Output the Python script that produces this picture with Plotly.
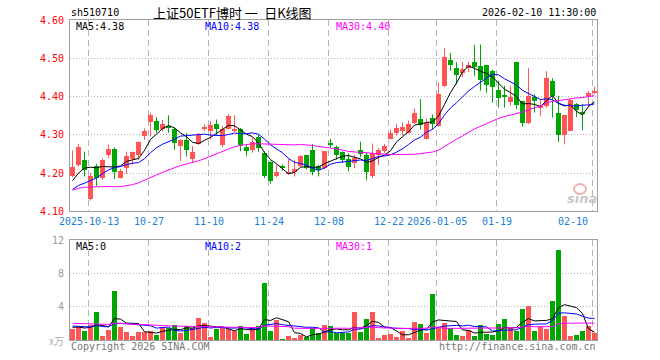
import plotly.graph_objects as go

# ---------------- data ----------------
dates = [
    "2025-09-30", "2025-10-09", "2025-10-10",
    "2025-10-13", "2025-10-14", "2025-10-15", "2025-10-16", "2025-10-17",
    "2025-10-20", "2025-10-21", "2025-10-22", "2025-10-23", "2025-10-24",
    "2025-10-27", "2025-10-28", "2025-10-29", "2025-10-30", "2025-10-31",
    "2025-11-03", "2025-11-04", "2025-11-05", "2025-11-06", "2025-11-07",
    "2025-11-10", "2025-11-11", "2025-11-12", "2025-11-13", "2025-11-14",
    "2025-11-17", "2025-11-18", "2025-11-19", "2025-11-20", "2025-11-21",
    "2025-11-24", "2025-11-25", "2025-11-26", "2025-11-27", "2025-11-28",
    "2025-12-01", "2025-12-02", "2025-12-03", "2025-12-04", "2025-12-05",
    "2025-12-08", "2025-12-09", "2025-12-10", "2025-12-11", "2025-12-12",
    "2025-12-15", "2025-12-16", "2025-12-17", "2025-12-18", "2025-12-19",
    "2025-12-22", "2025-12-23", "2025-12-24", "2025-12-25", "2025-12-26",
    "2025-12-29", "2025-12-30", "2025-12-31",
    "2026-01-05", "2026-01-06", "2026-01-07", "2026-01-08", "2026-01-09",
    "2026-01-12", "2026-01-13", "2026-01-14", "2026-01-15", "2026-01-16",
    "2026-01-19", "2026-01-20", "2026-01-21", "2026-01-22", "2026-01-23",
    "2026-01-26", "2026-01-27", "2026-01-28", "2026-01-29", "2026-01-30",
    "2026-02-02", "2026-02-03", "2026-02-04", "2026-02-05", "2026-02-06",
    "2026-02-09", "2026-02-10",
]

open_ = [
    4.191, 4.221, 4.234, 4.132, 4.219, 4.186, 4.248, 4.263, 4.188, 4.213,
    4.236, 4.248, 4.297, 4.333, 4.335, 4.315, 4.324, 4.314, 4.271, 4.287,
    4.237, 4.276, 4.314, 4.311, 4.327, 4.272, 4.316, 4.310, 4.314, 4.268,
    4.261, 4.293, 4.253, 4.230, 4.191, 4.216, 4.200, 4.203, 4.218, 4.246,
    4.259, 4.219, 4.213, 4.277, 4.268, 4.255, 4.238, 4.226, 4.261, 4.248,
    4.191, 4.248, 4.257, 4.290, 4.305, 4.309, 4.305, 4.332, 4.340, 4.290,
    4.343, 4.323, 4.428, 4.496, 4.475, 4.461, 4.474, 4.491, 4.481, 4.482,
    4.468, 4.417, 4.402, 4.386, 4.491, 4.389, 4.330, 4.399, 4.371, 4.374,
    4.441, 4.356, 4.300, 4.311, 4.380, 4.360, 4.402, 4.409,
]
high = [
    4.259, 4.276, 4.256, 4.200, 4.224, 4.238, 4.274, 4.267, 4.211, 4.256,
    4.256, 4.283, 4.317, 4.357, 4.346, 4.339, 4.351, 4.318, 4.288, 4.304,
    4.270, 4.305, 4.327, 4.336, 4.340, 4.323, 4.354, 4.351, 4.318, 4.275,
    4.292, 4.300, 4.257, 4.231, 4.222, 4.222, 4.237, 4.235, 4.247, 4.248,
    4.276, 4.222, 4.257, 4.290, 4.272, 4.257, 4.251, 4.248, 4.282, 4.252,
    4.277, 4.265, 4.276, 4.314, 4.329, 4.332, 4.337, 4.368, 4.393, 4.342,
    4.353, 4.437, 4.526, 4.514, 4.490, 4.490, 4.490, 4.535, 4.536, 4.482,
    4.470, 4.441, 4.428, 4.428, 4.491, 4.389, 4.474, 4.406, 4.393, 4.466,
    4.448, 4.402, 4.351, 4.393, 4.383, 4.380, 4.414, 4.426,
]
low = [
    4.189, 4.217, 4.191, 4.128, 4.166, 4.182, 4.239, 4.184, 4.186, 4.198,
    4.222, 4.235, 4.287, 4.296, 4.305, 4.309, 4.305, 4.261, 4.231, 4.243,
    4.226, 4.274, 4.310, 4.288, 4.300, 4.268, 4.314, 4.307, 4.257, 4.244,
    4.253, 4.256, 4.187, 4.172, 4.189, 4.207, 4.196, 4.191, 4.216, 4.209,
    4.194, 4.191, 4.210, 4.266, 4.235, 4.226, 4.204, 4.213, 4.242, 4.181,
    4.187, 4.221, 4.253, 4.288, 4.298, 4.298, 4.303, 4.328, 4.314, 4.288,
    4.314, 4.321, 4.424, 4.468, 4.432, 4.450, 4.464, 4.454, 4.415, 4.410,
    4.384, 4.371, 4.371, 4.376, 4.367, 4.321, 4.328, 4.358, 4.349, 4.371,
    4.345, 4.281, 4.275, 4.310, 4.346, 4.312, 4.375, 4.406,
]
close = [
    4.217, 4.267, 4.208, 4.191, 4.186, 4.234, 4.263, 4.204, 4.206, 4.245,
    4.254, 4.281, 4.309, 4.351, 4.313, 4.328, 4.320, 4.278, 4.287, 4.261,
    4.256, 4.303, 4.320, 4.325, 4.314, 4.314, 4.349, 4.316, 4.272, 4.257,
    4.282, 4.265, 4.193, 4.178, 4.203, 4.214, 4.203, 4.211, 4.244, 4.213,
    4.203, 4.207, 4.257, 4.275, 4.246, 4.235, 4.215, 4.239, 4.250, 4.202,
    4.253, 4.261, 4.270, 4.305, 4.317, 4.321, 4.327, 4.356, 4.325, 4.332,
    4.327, 4.406, 4.504, 4.483, 4.456, 4.472, 4.482, 4.476, 4.443, 4.430,
    4.426, 4.396, 4.400, 4.400, 4.377, 4.330, 4.402, 4.387, 4.375, 4.448,
    4.402, 4.300, 4.351, 4.390, 4.365, 4.354, 4.408, 4.415,
]
volume = [  # 万
    1.28, 1.68, 1.12, 1.80, 3.40, 0.48, 1.20, 5.92, 1.52, 1.00,
    0.48, 1.00, 0.96, 1.12, 0.60, 1.52, 1.40, 1.80, 0.88, 1.68,
    1.40, 2.68, 2.08, 0.40, 1.32, 1.40, 1.28, 1.12, 1.72, 0.72,
    1.28, 1.68, 6.88, 1.12, 2.40, 0.12, 0.48, 0.28, 0.60, 0.40,
    1.40, 0.88, 1.80, 1.68, 0.88, 0.88, 0.88, 3.40, 1.00, 2.52,
    3.40, 0.28, 0.60, 0.72, 0.40, 1.12, 0.28, 2.20, 1.92, 0.88,
    5.52, 1.52, 2.08, 1.40, 0.60, 0.48, 1.20, 0.48, 1.80, 0.72,
    0.60, 1.92, 2.52, 1.40, 1.12, 3.72, 4.08, 1.12, 1.52, 1.32,
    4.68, 10.80, 2.88, 0.48, 0.60, 1.12, 1.68, 0.80,
]
# closes / volumes before the visible window (estimated from where the MA lines start)
pre_close = [4.12, 4.14, 4.15, 4.18, 4.22, 4.24, 4.23, 4.21, 4.18, 4.16,
             4.14, 4.12, 4.11, 4.12, 4.13, 4.12, 4.11, 4.12, 4.14, 4.15,
             4.16, 4.15, 4.13, 4.11, 4.12, 4.167, 4.143, 4.18, 4.193]
pre_volume = [2.5, 1.8, 3.2, 2.0, 1.6, 2.4, 1.9, 2.8, 1.7, 2.2,
              1.5, 2.6, 2.0, 1.8, 2.3, 1.9, 2.4, 1.7, 2.1, 2.8,
              2.0, 1.6, 2.2, 1.7, 1.7, 1.5, 1.7, 1.4, 1.72]

tick_dates = ["2025-10-13", "2025-10-27", "2025-11-10", "2025-11-24", "2025-12-08",
              "2025-12-22", "2026-01-05", "2026-01-19", "2026-02-10"]
tick_text = ["2025-10-13", "10-27", "11-10", "11-24", "12-08",
             "12-22", "2026-01-05", "01-19", "02-10"]
price_ticks = [4.10, 4.20, 4.30, 4.40, 4.50, 4.60]
vol_ticks = [4, 8, 12]
title_code = "sh510710"
title_name = "上证50ETF博时\u2009一\u2002日K线图"
timestamp = "2026-02-10 11:30:00"
price_ma_labels = ["MA5:4.38", "MA10:4.38", "MA30:4.40"]
vol_ma_labels = ["MA5:0", "MA10:2", "MA30:1"]

# ---------------- derived ----------------
n = len(close)
idx = list(range(n))


def moving_avg(prev, vals, w):
    full = list(prev) + list(vals)
    off = len(prev)
    return [sum(full[off + i - w + 1: off + i + 1]) / w for i in range(n)]


ma5 = moving_avg(pre_close, close, 5)
ma10 = moving_avg(pre_close, close, 10)
ma30 = moving_avg(pre_close, close, 30)
vma5 = moving_avg(pre_volume, volume, 5)
vma10 = moving_avg(pre_volume, volume, 10)
vma30 = moving_avg(pre_volume, volume, 30)

RED = "#ff5555"
GREEN = "#00a600"
up = [c >= o for o, c in zip(open_, close)]
colors = [RED if u else GREEN for u in up]

# ---------------- layout helpers (pixels -> paper) ----------------
W, H = 660, 360
ML, MR, MT, MB = 70, 63, 20, 20
PW, PH = W - ML - MR, H - MT - MB


def px(xp):
    return (xp - ML) / PW


def py(yp):
    return (H - MB - yp) / PH


MONO = "DejaVu Sans Mono"
GRID = "#b4b4b4"
BORDER = "#a0a0a0"

fig = go.Figure()

# wicks
for flag, col in ((True, RED), (False, GREEN)):
    xs, ys = [], []
    for i in idx:
        if up[i] == flag:
            xs += [i, i, None]
            ys += [low[i], high[i], None]
    fig.add_trace(go.Scatter(x=xs, y=ys, mode="lines", line=dict(color=col, width=1),
                             hoverinfo="skip", xaxis="x", yaxis="y"))

# bodies
fig.add_trace(go.Bar(
    x=idx,
    base=[min(o, c) for o, c in zip(open_, close)],
    y=[max(abs(c - o), 0.0014) for o, c in zip(open_, close)],
    marker=dict(color=colors, line=dict(width=0)),
    width=0.78, xaxis="x", yaxis="y", customdata=dates,
    hovertemplate="%{customdata}<extra></extra>",
))

for series, col in ((ma5, "#000000"), (ma10, "#0000ff"), (ma30, "#ff00ff")):
    fig.add_trace(go.Scatter(x=idx, y=series, mode="lines", line=dict(color=col, width=1),
                             hoverinfo="skip", xaxis="x", yaxis="y"))

# volume
fig.add_trace(go.Bar(x=idx, y=volume, marker=dict(color=colors, line=dict(width=0)),
                     width=0.78, xaxis="x2", yaxis="y2", customdata=dates,
                     hovertemplate="%{customdata}<extra></extra>"))
for series, col in ((vma5, "#000000"), (vma10, "#0000ff"), (vma30, "#ff00ff")):
    fig.add_trace(go.Scatter(x=idx, y=series, mode="lines", line=dict(color=col, width=1),
                             hoverinfo="skip", xaxis="x2", yaxis="y2"))

tick_pos = [dates.index(d) - 0.33 for d in tick_dates]

xcommon = dict(range=[-0.42, 87.42], tickvals=tick_pos, showticklabels=False,
               showgrid=True, gridcolor=GRID, gridwidth=1, griddash="6px,4px",
               zeroline=False, showline=True, mirror=True, linecolor=BORDER,
               linewidth=1, ticks="", fixedrange=True)

main_bottom = py(211.3)
vol_top = py(240)

annotations = []
# date labels
for k, (p, t) in enumerate(zip(tick_pos, tick_text)):
    if k == len(tick_pos) - 1:
        annotations.append(dict(x=px(590), xref="paper", y=py(221.5), yref="paper",
                                text=t, showarrow=False, xanchor="right", yanchor="middle",
                                font=dict(family=MONO, size=10, color="#1a7fd4")))
    else:
        annotations.append(dict(x=p, xref="x", y=py(221.5), yref="paper", text=t,
                                showarrow=False, xanchor="center", yanchor="middle",
                                font=dict(family=MONO, size=10, color="#1a7fd4")))

# header
annotations.append(dict(x=px(69), y=py(13), xref="paper", yref="paper", text=title_code,
                        showarrow=False, xanchor="left", yanchor="middle",
                        font=dict(family=MONO, size=10, color="#000")))
annotations.append(dict(x=px(151), y=py(12.5), xref="paper", yref="paper", text=title_name,
                        showarrow=False, xanchor="left", yanchor="middle",
                        font=dict(family="Noto Sans CJK SC", size=13, color="#000")))
annotations.append(dict(x=px(598), y=py(13), xref="paper", yref="paper", text=timestamp,
                        showarrow=False, xanchor="right", yanchor="middle",
                        font=dict(family=MONO, size=10, color="#000")))

ma_cols = ["#000000", "#0000ff", "#ff00ff"]
ma_x = [74, 203, 334]
for t, c, xx in zip(price_ma_labels, ma_cols, ma_x):
    annotations.append(dict(x=px(xx), y=py(26.5), xref="paper", yref="paper", text=t,
                            showarrow=False, xanchor="left", yanchor="middle",
                            font=dict(family=MONO, size=10, color=c)))
for t, c, xx in zip(vol_ma_labels, ma_cols, ma_x):
    annotations.append(dict(x=px(xx), y=py(246.5), xref="paper", yref="paper", text=t,
                            showarrow=False, xanchor="left", yanchor="middle",
                            font=dict(family=MONO, size=10, color=c)))

# volume unit
annotations.append(dict(x=px(66), y=py(340), xref="paper", yref="paper", text="x万",
                        showarrow=False, xanchor="right", yanchor="middle",
                        font=dict(family="Noto Sans CJK SC", size=10, color="#b0b0b0")))
# footer
annotations.append(dict(x=px(69), y=py(346), xref="paper", yref="paper",
                        text="Copyright 2026 SINA.COM", showarrow=False,
                        xanchor="left", yanchor="middle",
                        font=dict(family=MONO, size=10, color="#777")))
annotations.append(dict(x=px(598), y=py(346), xref="paper", yref="paper",
                        text="http://finance.sina.com.cn", showarrow=False,
                        xanchor="right", yanchor="middle",
                        font=dict(family=MONO, size=10, color="#777")))
# sina watermark
annotations.append(dict(x=px(582), y=py(198), xref="paper", yref="paper",
                        text="<b><i>sina</i></b>", showarrow=False,
                        xanchor="center", yanchor="middle",
                        font=dict(family="DejaVu Sans", size=13, color="#c8c8c8")))

shapes = [dict(type="circle", xref="paper", yref="paper",
               x0=px(574), x1=px(586), y0=py(194), y1=py(184),
               line=dict(color="#f3b0b0", width=2))]

fig.update_layout(
    width=W, height=H,
    margin=dict(l=ML, r=MR, t=MT, b=MB),
    paper_bgcolor="#ffffff", plot_bgcolor="#ffffff",
    showlegend=False, bargap=0, hovermode="closest",
    xaxis=dict(anchor="y", domain=[0, 1], **xcommon),
    xaxis2=dict(anchor="y2", domain=[0, 1], matches="x", **xcommon),
    yaxis=dict(domain=[main_bottom, 1], range=[4.10, 4.60], tickvals=price_ticks,
               ticktext=["%.2f" % v for v in price_ticks],
               tickfont=dict(family=MONO, size=10, color="#ff0000"),
               showgrid=True, gridcolor=GRID, griddash="1px,2px",
               zeroline=False, showline=True, mirror=True, linecolor=BORDER,
               ticks="", ticklabelstandoff=3, fixedrange=True),
    yaxis2=dict(domain=[0, vol_top], range=[0, 12], tickvals=vol_ticks,
                ticktext=[str(v) for v in vol_ticks],
                tickfont=dict(family=MONO, size=10, color="#999999"),
                showgrid=True, gridcolor=GRID, griddash="1px,2px",
                zeroline=False, showline=True, mirror=True, linecolor=BORDER,
                ticks="", ticklabelstandoff=3, fixedrange=True),
    annotations=annotations,
    shapes=shapes,
)

fig.write_html("out.html")
